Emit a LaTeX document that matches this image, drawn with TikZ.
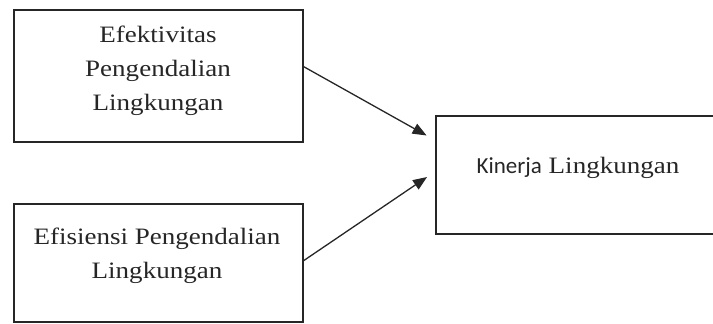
\documentclass[tikz,border=0pt]{standalone}
\usepackage{fontspec}
\setmainfont[FakeStretch=1.15]{Liberation Serif}
\newfontfamily\kinfont{Carlito}
\usetikzlibrary{arrows.meta,calc}
\begin{document}
\begin{tikzpicture}[x=1pt,y=-1pt,
  box/.style={draw=black!85,line width=1.4pt,rectangle,inner sep=0pt},
  lbl/.style={font=\fontsize{23.5}{34}\selectfont,align=center,inner sep=0pt,anchor=base,text=black!85},
  arr/.style={draw=black!85,line width=1.3pt,-{Triangle[length=14pt,width=11pt]},shorten >=10pt}]
  \useasboundingbox (0,0) rectangle (713,324);
  % boxes
  \node[box,minimum width=289pt,minimum height=132pt] (b1) at (158.5,76) {};
  \node[box,minimum width=289pt,minimum height=118pt] (b2) at (158.5,263) {};
  \node[box,minimum width=290pt,minimum height=118pt] (b3) at (581,175) {};
  % texts (anchored at the baseline of the last line)
  \node[lbl] (t1) at (158,110) {Efektivitas\\Pengendalian\\Lingkungan};
  \node[lbl] (t2) at (157,278) {Efisiensi Pengendalian\\Lingkungan};
  \node[lbl] (t3) at (578,173) {{\kinfont\fontsize{23}{27}\selectfont Kinerja} Lingkungan};
  % connectors
  \draw[arr] ($(b1.north east)!0.43!(b1.south east)$) -- ($(b3.north west)!0.21!(b3.south west)$);
  \draw[arr] ($(b2.north east)!0.48!(b2.south east)$) -- ($(b3.north west)!0.47!(b3.south west)$);
\end{tikzpicture}
\end{document}
